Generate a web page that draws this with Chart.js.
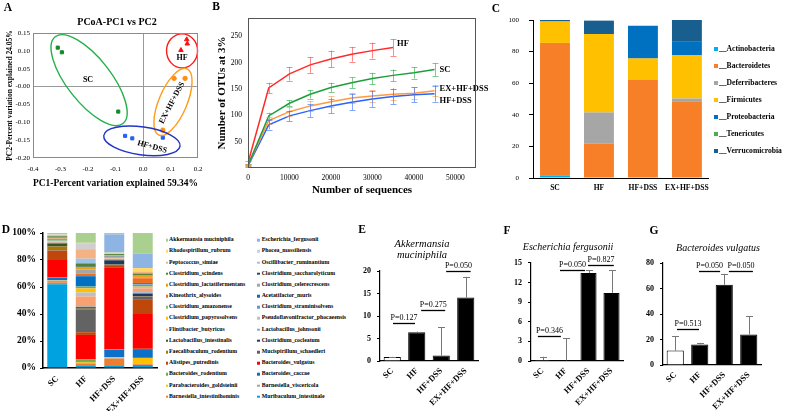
<!DOCTYPE html>
<html><head><meta charset="utf-8">
<script src="https://cdn.jsdelivr.net/npm/chart.js@4"></script>
<style>
html,body{margin:0;padding:0;background:#fff;}
body{width:785px;height:411px;position:relative;overflow:hidden;font-family:"Liberation Serif","Times New Roman",serif;color:#000;}
canvas{position:absolute;}
.t{position:absolute;white-space:nowrap;line-height:1;transform:translate(-50%,-50%);}
.lg{position:absolute;white-space:nowrap;line-height:1;transform:translateY(-50%);font-weight:bold;}
.mk{position:absolute;transform:translateY(-50%);}
</style></head><body>
<script>
// ---------- DATA ----------
// A: PCoA
const pcoaSCx = [-0.31, -0.295, -0.09], pcoaSCy = [0.109, 0.096, -0.07];
const pcoaHFx = [0.159, 0.161, 0.138], pcoaHFy = [0.132, 0.12, 0.102];
const pcoaEXx = [0.113, 0.153, 0.072], pcoaEXy = [0.023, 0.023, -0.122];
const pcoaHDx = [-0.065, -0.039, 0.072], pcoaHDy = [-0.138, -0.145, -0.143];
// B: rarefaction
const seqDepth = [0,5000,10000,15000,20000,25000,30000,35000,40000,45000];
const seqTicks = [0,10000,20000,30000,40000,50000];
const otuTicks = [50,100,150,200,250];
const otuHF = [10,152,179,196,207,216,223,229];
const otuHFerr = [3,10,13,15,16,14,15,16];
const otuSC = [5,99,123,140,153,162,170,176,181,187];
const otuSCerr = [2,6,6,8,9,10,11,11,11,12];
const otuEX = [6,90,107,118,126,133,137,140,142,147];
const otuEXerr = [2,6,8,9,10,10,11,11,11,11];
const otuHD = [4,82,99,109,118,125,131,136,139,141];
const otuHDerr = [2,9,10,12,14,15,15,15,14,15];
// groups
const groups = ['SC','HF','HF+DSS','EX+HF+DSS'];
// C: phyla (%)
const phyla = ['__Actinobacteria','__Bacteroidetes','__Deferribacteres','__Firmicutes','__Proteobacteria','__Tenericutes','__Verrucomicrobia'];
const phylumSC    = [1.5, 84.0, 0,    13.5, 0.2,  0, 0.8];
const phylumHF    = [0,   21.8, 19.7, 49.6, 0,    0, 8.5];
const phylumHFDSS = [0,   62.0, 0,    13.7, 20.7, 0, 0];
const phylumEX    = [0,   48.6, 1.7,  27.3, 8.6,  0, 14.4];
// D: species (%) in legend order
const species = ['Akkermansia muciniphila','Escherichia_fergusonii','Rhodospirillum_rubrum','Phocea_massiliensis',
 'Peptococcus_simiae','Oscillibacter_ruminantium','Clostridium_scindens','Clostridium_saccharolyticum',
 'Clostridium_lactatifermentans','Clostridium_celerecrescens','Kineothrix_alysoides','Acetatifactor_muris',
 'Clostridium_amazonense','Clostridium_straminisolvens','Clostridium_papyrosolvens','Pseudoflavonifractor_phocaeensis',
 'Flintibacter_butyricus','Lactobacillus_johnsonii','Lactobacillus_intestinalis','Clostridium_cocleatum',
 'Faecalibaculum_rodentium','Mucispirillum_schaedleri','Alistipes_putredinis','Bacteroides_vulgatus',
 'Bacteroides_rodentium','Bacteroides_caccae','Parabacteroides_goldsteinii','Barnesiella_viscericola',
 'Barnesiella_intestinihominis','Muribaculum_intestinale'];
const speciesSC    = [0.8,0.1,0.2,0.4,0.6,0.3,0.8,0.3,0.5,0.3,0.5,0.3,0.6,0.2,0.3,0.5,0.5,0.5,2.0,0.3,2.7,0.3,7.0,12.8,0.2,2.0,0.3,1.2,1.5,62.0];
const speciesHF    = [7.2,0.1,0.2,4.5,7.0,3.5,2.5,0.5,1.5,3.0,2.0,7.7,0.3,1.0,3.0,3.0,7.4,0.3,0.3,1.0,0.5,17.0,2.0,18.0,1.8,0.5,0.5,0.5,1.2,2.0];
const speciesHFDSS = [1.0,13.5,0.2,0.3,0.3,0.3,0.7,0.2,0.3,0.3,0.3,0.3,0.5,0.3,0.2,0.3,0.3,0.7,0.3,3.0,0.2,0.3,1.5,61.0,0.2,5.5,0.7,0.3,5.0,2.0];
const speciesEX    = [15.2,10.8,2.2,0.3,1.2,0.3,1.2,0.3,1.7,0.3,3.5,0.7,0.3,1.7,0.3,1.0,3.0,0.7,0.3,1.7,0.3,2.0,11.0,25.8,0.2,6.5,4.5,0.2,0.6,2.2];
// E, F, G: relative abundance (%)
const akkMean = [0.9, 6.4, 1.2, 14.1], akkErr = [0.05, 0.15, 6.3, 4.6];
const escMean = [0.15, 0.1, 13.45, 10.4], escErr = [0.5, 3.35, 0.4, 3.45];
const bvuMean = [11.3, 16.1, 62.9, 24.0], bvuErr = [11.4, 1.3, 8.6, 14.3];
const akkP = [{from:0.03,to:0.93,y:8.4,text:'P=0.127'},{from:1.18,to:2.16,y:11.3,text:'P=0.275'},{from:2.2,to:3.2,y:20,text:'P=0.050'}];
const escP = [{from:-0.2,to:0.8,y:3.8,text:'P=0.346'},{from:0.76,to:1.85,y:13.9,text:'P=0.050'},{from:1.98,to:3.1,y:14.7,text:'P=0.827'}];
const bvuP = [{from:0.07,to:0.97,y:28.2,text:'P=0.513'},{from:0.97,to:1.83,y:73.7,text:'P=0.050'},{from:2.19,to:3.17,y:73.7,text:'P=0.050'}];

// ---------- STYLE ----------
const SERIF = "'Liberation Serif','Times New Roman',serif";
const phylaColors = ['#00B0F0','#F77F27','#A6A6A6','#FFC000','#0070C0','#4EAD48','#185F8F'];
const speciesColors = ['#A9D08E','#8DB4E2','#FFD966','#D0CECE','#F4B183','#9DC3E6','#548235','#1F4E79',
 '#E8A020','#A5A5A5','#F26B1D','#0070C0','#8CC168','#5B9BD5','#FFC000','#BFBFBF',
 '#F8A070','#7CAFDD','#385723','#203864','#A87A00','#636363','#C0470C','#FF0000',
 '#70AD47','#0A70C8','#FFC000','#A5A5A5','#ED7D31','#00A2E0'];

Chart.defaults.font.family = SERIF;
Chart.defaults.color = '#000';
Chart.defaults.animation = false;
Chart.defaults.plugins.legend.display = false;
Chart.defaults.plugins.tooltip.enabled = false;

function mk(x,y,w,h){const c=document.createElement('canvas');c.width=w;c.height=h;c.style.left=x+'px';c.style.top=y+'px';c.style.width=w+'px';c.style.height=h+'px';document.body.appendChild(c);return c;}
function pad(box,area,yW,xH){return {left:area.l-box.x-yW,top:area.t-box.y,right:box.x+box.w-area.r,bottom:box.y+box.h-area.b-xH};}
function html(cls,txt,x,y,css){const d=document.createElement('div');d.className=cls;d.textContent=txt;d.style.left=x+'px';d.style.top=y+'px';if(css)d.style.cssText+=css;document.body.appendChild(d);return d;}
const fixTicks=vals=>(s=>{s.ticks=vals.map(v=>({value:v}));});
const noGrid={display:false,drawTicks:false};

// plugins
function framePlugin(color,w){return {id:'frame',afterDraw(ch){const a=ch.chartArea,c=ch.ctx;c.save();c.strokeStyle=color;c.lineWidth=w;c.strokeRect(a.left+0.5,a.top+0.5,a.right-a.left-1,a.bottom-a.top-1);c.restore();}};}
function ellipsePlugin(items){return {id:'ell',afterDatasetsDraw(ch){const c=ch.ctx,xs=ch.scales.x,ys=ch.scales.y;items.forEach(e=>{c.save();c.strokeStyle=e.color;c.lineWidth=1.4;c.beginPath();c.ellipse(xs.getPixelForValue(e.cx),ys.getPixelForValue(e.cy),e.rx,e.ry,e.rot*Math.PI/180,0,2*Math.PI);c.stroke();c.restore();});}};}
function textPlugin(items){return {id:'txt',afterDatasetsDraw(ch){const c=ch.ctx,xs=ch.scales.x,ys=ch.scales.y;items.forEach(t=>{c.save();c.translate(xs.getPixelForValue(t.x),ys.getPixelForValue(t.y));c.rotate((t.rot||0)*Math.PI/180);c.font=t.font;c.fillStyle=t.color||'#000';c.textAlign='center';c.textBaseline='middle';c.fillText(t.text,0,0);c.restore();});}};}
function errPlugin(both,cap,defColor){return {id:'err',afterDatasetsDraw(ch){const c=ch.ctx,ys=ch.scales.y;ch.data.datasets.forEach((ds,i)=>{if(!ds.errors)return;const meta=ch.getDatasetMeta(i);meta.data.forEach((el,j)=>{const e=ds.errors[j];if(e==null)return;const v=meta.controller.getParsed(j).y;const x=Math.round(el.x)+0.5;const yt=ys.getPixelForValue(v+e);const yb=both?ys.getPixelForValue(v-e):el.y;c.save();c.strokeStyle=ds.errorColor||defColor;c.lineWidth=1;c.beginPath();c.moveTo(x,yb);c.lineTo(x,yt);c.moveTo(x-cap,Math.round(yt)+0.5);c.lineTo(x+cap,Math.round(yt)+0.5);if(both){c.moveTo(x-cap,Math.round(yb)+0.5);c.lineTo(x+cap,Math.round(yb)+0.5);}c.stroke();c.restore();});});}};}
function endLabelPlugin(font){return {id:'endlbl',afterDatasetsDraw(ch){const c=ch.ctx;ch.data.datasets.forEach((ds,i)=>{const meta=ch.getDatasetMeta(i);const el=meta.data[meta.data.length-1];c.save();c.font=font;c.fillStyle='#000';c.textAlign='left';c.textBaseline='middle';c.fillText(ds.label,el.x+ds.labelOffset[0],el.y+ds.labelOffset[1]);c.restore();});}};}
function pvalPlugin(items){return {id:'pv',afterDatasetsDraw(ch){const c=ch.ctx,xs=ch.scales.x,ys=ch.scales.y;items.forEach(p=>{const x1=xs.getPixelForValue(p.from),x2=xs.getPixelForValue(p.to),y=Math.round(ys.getPixelForValue(p.y))+0.5;c.save();c.strokeStyle='#000';c.lineWidth=1.3;c.beginPath();c.moveTo(x1,y);c.lineTo(x2,y);c.stroke();c.font='8px '+SERIF;c.fillStyle='#000';c.textAlign='center';c.textBaseline='alphabetic';c.fillText(p.text,(x1+x2)/2,y-3.5);c.restore();});}};}

// ---------- PANEL A ----------
(function(){
 const box={x:0,y:0,w:215,h:200}, area={l:33,t:33,r:198,b:158};
 const pts=(xs,ys)=>xs.map((x,i)=>({x:x,y:ys[i]}));
 const zeroGrid={drawTicks:false,color:ctx=>Math.abs(ctx.tick.value)<1e-9?'#9a9a9a':'rgba(0,0,0,0)'};
 new Chart(mk(box.x,box.y,box.w,box.h),{type:'scatter',
  data:{datasets:[
   {label:'SC',data:pts(pcoaSCx,pcoaSCy),pointStyle:'rect',pointRadius:2.2,backgroundColor:'#138a2a',borderColor:'#138a2a'},
   {label:'HF',data:pts(pcoaHFx,pcoaHFy),pointStyle:'triangle',pointRadius:2.6,backgroundColor:'#ff1010',borderColor:'#ff1010'},
   {label:'EX+HF+DSS',data:pts(pcoaEXx,pcoaEXy),pointStyle:'circle',pointRadius:2.2,backgroundColor:'#ff8c10',borderColor:'#ff8c10'},
   {label:'HF+DSS',data:pts(pcoaHDx,pcoaHDy),pointStyle:'rect',pointRadius:2.2,backgroundColor:'#1f5fff',borderColor:'#1f5fff'}]},
  options:{responsive:false,devicePixelRatio:1,layout:{autoPadding:false,padding:pad(box,area,31,38)},
   scales:{
    x:{type:'linear',min:-0.4,max:0.2,border:{display:false},grid:zeroGrid,
       ticks:{stepSize:0.1,padding:7,font:{size:7},callback:v=>v.toFixed(1)},
       title:{display:true,text:'PC1-Percent variation explained 59.34%',font:{size:9.5,weight:'bold'},padding:{top:0,bottom:7}},
       afterFit:s=>{s.height=38;}},
    y:{type:'linear',min:-0.2,max:0.15,border:{display:false},grid:zeroGrid,
       ticks:{stepSize:0.05,padding:3,font:{size:7},callback:v=>v.toFixed(2)},
       title:{display:true,text:'PC2-Percent variation explained 24.05%',font:{size:7.5,weight:'bold'},padding:{top:3.5,bottom:0}},
       afterFit:s=>{s.width=31;}}}},
  plugins:[framePlugin('#8a8a8a',1),
   ellipsePlugin([{cx:-0.196,cy:0.018,rx:55,ry:22,rot:52,color:'#22b04a'},
                  {cx:0.142,cy:0.1,rx:15.5,ry:17,rot:0,color:'#ff1a1a'},
                  {cx:0.109,cy:-0.043,rx:36,ry:14,rot:-67,color:'#ff9a1a'},
                  {cx:-0.004,cy:-0.152,rx:38.5,ry:14,rot:8,color:'#2233c8'}]),
   textPlugin([{text:'SC',x:-0.2,y:0.018,font:'bold 8px '+SERIF},
               {text:'HF',x:0.142,y:0.08,font:'bold 8px '+SERIF},
               {text:'EX+HF+DSS',x:0.105,y:-0.046,rot:-62,font:'bold 8px '+SERIF},
               {text:'HF+DSS',x:0.033,y:-0.169,rot:15,font:'bold 8px '+SERIF}])]});
})();

// ---------- PANEL B ----------
(function(){
 const box={x:200,y:0,w:290,h:200}, area={l:248,t:18,r:476,b:168};
 const ser=(ys)=>ys.map((y,i)=>({x:seqDepth[i],y:y}));
 const mkds=(label,ys,err,col,ecol,off)=>({label:label,data:ser(ys),errors:err,errorColor:ecol,borderColor:col,backgroundColor:col,borderWidth:1.5,pointRadius:0,tension:0,labelOffset:off});
 new Chart(mk(box.x,box.y,box.w,box.h),{type:'line',
  data:{datasets:[
   mkds('HF',otuHF,otuHFerr,'#ff2a2a','rgba(255,60,60,0.6)',[4,-4]),
   mkds('SC',otuSC,otuSCerr,'#1e9e3a','rgba(40,170,70,0.6)',[5,0]),
   mkds('EX+HF+DSS',otuEX,otuEXerr,'#ff9a40','rgba(255,150,80,0.6)',[5,-2]),
   mkds('HF+DSS',otuHD,otuHDerr,'#2a62ff','rgba(50,110,255,0.6)',[5,7])]},
  options:{responsive:false,devicePixelRatio:1,layout:{autoPadding:false,padding:pad(box,area,46,30)},
   scales:{
    x:{type:'linear',min:0,max:55000,border:{display:false},grid:noGrid,
       afterBuildTicks:fixTicks(seqTicks),
       ticks:{padding:5.5,font:{size:7.5},callback:v=>String(v)},
       title:{display:true,text:'Number of sequences',font:{size:11,weight:'bold'},padding:{top:0,bottom:1.4}},
       afterFit:s=>{s.height=30;}},
    y:{type:'linear',min:0,max:285,border:{display:false},grid:noGrid,
       afterBuildTicks:fixTicks(otuTicks),
       ticks:{padding:6,font:{size:7.5},callback:v=>String(v)},
       title:{display:true,text:'Number of OTUs at 3%',font:{size:11,weight:'bold'},padding:{top:14,bottom:0}},
       afterFit:s=>{s.width=46;}}}},
  plugins:[framePlugin('#555',1),errPlugin(true,3,'#888'),endLabelPlugin('bold 8.5px '+SERIF)]});
})();

// ---------- PANEL C ----------
(function(){
 const box={x:490,y:0,w:225,h:200}, area={l:533,t:20,r:709,b:178};
 const byGroup=[phylumSC,phylumHF,phylumHFDSS,phylumEX];
 const ds=phyla.map((p,k)=>({label:p,data:byGroup.map(g=>g[k]),backgroundColor:phylaColors[k],borderWidth:0,barPercentage:0.68,categoryPercentage:1}));
 new Chart(mk(box.x,box.y,box.w,box.h),{type:'bar',data:{labels:groups,datasets:ds},
  options:{responsive:false,devicePixelRatio:1,layout:{autoPadding:false,padding:pad(box,area,41,20)},
   scales:{
    x:{stacked:true,border:{display:true,color:'#000',width:1},grid:noGrid,
       ticks:{padding:5.5,font:{size:7.6,weight:'bold'},maxRotation:0,autoSkip:false},afterFit:s=>{s.height=20;}},
    y:{stacked:true,min:0,max:100,border:{display:true,color:'#000',width:1},
       grid:{display:true,drawOnChartArea:false,drawTicks:true,tickLength:4,tickColor:'#000'},
       ticks:{stepSize:20,padding:10,font:{size:7}},afterFit:s=>{s.width=41;}}}}});
 const rows=[49.3,66,83.3,100,117.3,134.3,151];
 phyla.forEach((p,k)=>{
  const m=document.createElement('div');m.className='mk';m.style.cssText+=`left:714px;top:${rows[k]}px;width:4px;height:4px;background:${phylaColors[k]};`;document.body.appendChild(m);
  html('lg',p,719,rows[k],'font-size:7.6px;');
 });
})();

// ---------- PANEL D ----------
(function(){
 const box={x:0,y:215,w:165,h:196}, area={l:43,t:233,r:157,b:368};
 const byGroup=[speciesSC,speciesHF,speciesHFDSS,speciesEX];
 const ds=[];
 for(let k=species.length-1;k>=0;k--){
  ds.push({label:species[k],data:byGroup.map(g=>g[k]),backgroundColor:speciesColors[k],borderWidth:0,barPercentage:0.7,categoryPercentage:1});
 }
 new Chart(mk(box.x,box.y,box.w,box.h),{type:'bar',data:{labels:groups,datasets:ds},
  options:{responsive:false,devicePixelRatio:1,layout:{autoPadding:false,padding:pad(box,area,43,43)},
   scales:{
    x:{stacked:true,border:{display:true,color:'#000',width:1.5},grid:noGrid,
       ticks:{minRotation:45,maxRotation:45,autoSkip:false,padding:6,font:{size:8.5,weight:'bold'}},afterFit:s=>{s.height=43;}},
    y:{stacked:true,min:0,max:100,border:{display:true,color:'#000',width:1.5},
       grid:{display:true,drawOnChartArea:false,drawTicks:true,tickLength:3,tickColor:'#000'},
       ticks:{stepSize:10,padding:4,font:{size:9.5,weight:'bold'},callback:v=>v+'%'},afterFit:s=>{s.width=43;}}}}});
 const rowY=r=>240.3+r*11.17;
 species.forEach((s,i)=>{
  const r=Math.floor(i/2), col=i%2;
  const mx=col?257.3:165.5, tx=col?261.7:169;
  const m=document.createElement('div');m.className='mk';m.style.cssText+=`left:${mx}px;top:${rowY(r)}px;width:2.6px;height:2.6px;background:${speciesColors[i]};`;document.body.appendChild(m);
  html('lg',s,tx,rowY(r),'font-size:5.8px;');
 });
})();

// ---------- PANELS E, F, G ----------
function smallBar(box,area,yW,vals,errs,max,step,pvals){
 new Chart(mk(box.x,box.y,box.w,box.h),{type:'bar',
  data:{labels:groups,datasets:[{data:vals,errors:errs,backgroundColor:['#fff','#000','#000','#000'],borderColor:'#000',borderWidth:1,barPercentage:0.7,categoryPercentage:1}]},
  options:{responsive:false,devicePixelRatio:1,layout:{autoPadding:false,padding:pad(box,area,yW,box.y+box.h-area.b)},
   scales:{
    x:{border:{display:true,color:'#000',width:1.2},grid:noGrid,
       ticks:{minRotation:45,maxRotation:45,autoSkip:false,padding:5,font:{size:8.5,weight:'bold'}},afterFit:s=>{s.height=box.y+box.h-area.b;}},
    y:{min:0,max:max,border:{display:true,color:'#000',width:1.2},
       grid:{display:true,drawOnChartArea:false,drawTicks:true,tickLength:3,tickColor:'#000'},
       ticks:{stepSize:step,padding:6,font:{size:8,weight:'bold'}},afterFit:s=>{s.width=yW;}}}},
  plugins:[errPlugin(false,3.5,'#777'),pvalPlugin(pvals)]});
}
smallBar({x:330,y:256,w:160,h:155},{l:380,t:271,r:478,b:361},48,akkMean,akkErr,20,5,akkP);
smallBar({x:480,y:252,w:150,h:159},{l:531,t:262,r:623,b:361},49,escMean,escErr,15,3,escP);
smallBar({x:625,y:252,w:160,h:159},{l:663,t:263,r:761,b:365},36,bvuMean,bvuErr,80,20,bvuP);

// ---------- TITLES / PANEL LETTERS ----------
html('t','PCoA-PC1 vs PC2',117,22,'font-size:10px;font-weight:bold;');
const e=html('t','',422,248.5,'font-size:10.5px;font-style:italic;line-height:11px;text-align:center;');e.innerHTML='Akkermansia<br>muciniphila';
html('t','Escherichia fergusonii',568,247,'font-size:10px;font-style:italic;');
html('t','Bacteroides vulgatus',718,248,'font-size:10px;font-style:italic;');
[['A',8,8],['B',216,7],['C',496,9],['D',6,230],['E',362,230],['F',507,231],['G',654,231]].forEach(p=>html('t',p[0],p[1],p[2],'font-size:11.5px;font-weight:bold;'));
</script>
</body></html>
